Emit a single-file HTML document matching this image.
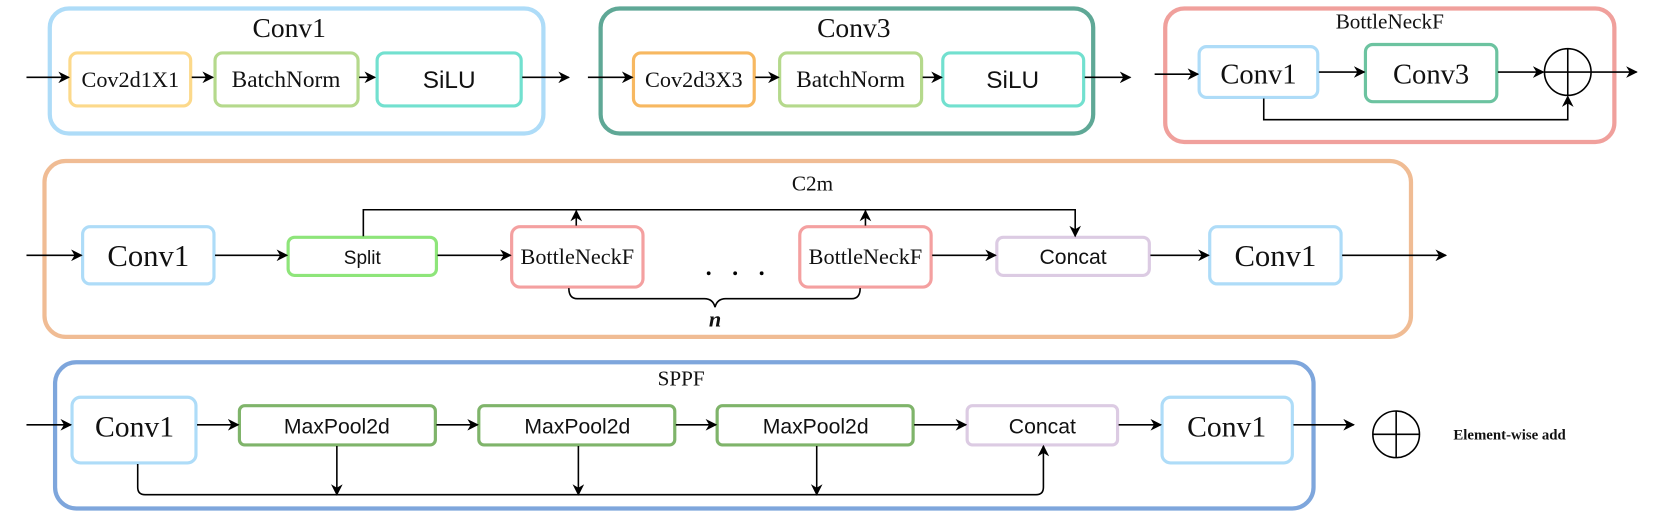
<!DOCTYPE html>
<html><head><meta charset="utf-8"><style>
html,body{margin:0;padding:0;background:#fff;}
svg{display:block;}
text{font-family:"Liberation Serif",serif;fill:#111;}
.s{font-family:"Liberation Sans",sans-serif;}
</style></head><body>
<svg width="1661" height="519" viewBox="0 0 1661 519" xmlns="http://www.w3.org/2000/svg">
<defs>
<marker id="a" viewBox="0 0 10 10" refX="9" refY="5" markerWidth="11" markerHeight="11" orient="auto-start-reverse" markerUnits="userSpaceOnUse"><path d="M0,0 L10,5 L0,10 L3,5 z" fill="#000"/></marker>
</defs>
<g transform="scale(1.0593)">
<g fill="none" stroke-width="4">
<rect x="47" y="8" width="466" height="118" rx="18" stroke="#aedcf8"/>
<rect x="567" y="8" width="465" height="118" rx="18" stroke="#5fa896"/>
<rect x="1100" y="8" width="424" height="126" rx="18" stroke="#f0a09c"/>
<rect x="42" y="152" width="1290" height="166" rx="20" stroke="#f0bc94"/>
<rect x="52" y="342" width="1188" height="138" rx="20" stroke="#7ea6dc"/>
</g>
<g fill="#fff" stroke-width="3">
<rect x="66" y="50" width="114" height="50" rx="7" stroke="#fcd98b"/>
<rect x="203" y="50" width="135" height="50" rx="7" stroke="#b5d98c"/>
<rect x="356" y="50" width="136" height="50" rx="7" stroke="#72e0cf"/>
<rect x="598" y="50" width="114" height="50" rx="7" stroke="#f7b861"/>
<rect x="736" y="50" width="134" height="50" rx="7" stroke="#b5d98c"/>
<rect x="890" y="50" width="133" height="50" rx="7" stroke="#72e0cf"/>
<rect x="1132" y="44" width="112" height="48" rx="7" stroke="#aedcf8"/>
<rect x="1289" y="42" width="124" height="54" rx="7" stroke="#6cc3a0"/>
<rect x="78" y="214" width="124" height="54" rx="7" stroke="#aedcf8"/>
<rect x="272" y="224" width="140" height="36" rx="6" stroke="#8ee57a"/>
<rect x="483" y="214" width="124" height="57" rx="8" stroke="#f4a0a0"/>
<rect x="755" y="214" width="124" height="57" rx="8" stroke="#f4a0a0"/>
<rect x="941" y="224" width="144" height="36" rx="6" stroke="#dccbe3"/>
<rect x="1142" y="214" width="124" height="54" rx="7" stroke="#aedcf8"/>
<rect x="68" y="375" width="117" height="62" rx="8" stroke="#aedcf8"/>
<rect x="226" y="383" width="185" height="37" rx="5" stroke="#7fb46a"/>
<rect x="452" y="383" width="185" height="37" rx="5" stroke="#7fb46a"/>
<rect x="677" y="383" width="185" height="37" rx="5" stroke="#7fb46a"/>
<rect x="913" y="383" width="142" height="37" rx="5" stroke="#dccbe3"/>
<rect x="1097" y="375" width="123" height="62" rx="8" stroke="#aedcf8"/>
</g>
<g stroke="#000" stroke-width="1.5" fill="none">
<line x1="25" y1="73" x2="65" y2="73" marker-end="url(#a)"/>
<line x1="181" y1="73" x2="201" y2="73" marker-end="url(#a)"/>
<line x1="339" y1="73" x2="354" y2="73" marker-end="url(#a)"/>
<line x1="493" y1="73" x2="537" y2="73" marker-end="url(#a)"/>
<line x1="555" y1="73" x2="597" y2="73" marker-end="url(#a)"/>
<line x1="713" y1="73" x2="735" y2="73" marker-end="url(#a)"/>
<line x1="871" y1="73" x2="889" y2="73" marker-end="url(#a)"/>
<line x1="1024" y1="73" x2="1067" y2="73" marker-end="url(#a)"/>
<line x1="1090" y1="70" x2="1131" y2="70" marker-end="url(#a)"/>
<line x1="1245" y1="68" x2="1288" y2="68" marker-end="url(#a)"/>
<line x1="1414" y1="68" x2="1457" y2="68" marker-end="url(#a)"/>
<line x1="1502" y1="68" x2="1545" y2="68" marker-end="url(#a)"/>
<polyline points="1193,93 1193,113 1480,113 1480,91" marker-end="url(#a)"/>
<circle cx="1480" cy="68" r="22"/>
<line x1="1458" y1="68" x2="1502" y2="68"/><line x1="1480" y1="46" x2="1480" y2="90"/>
<line x1="25" y1="241" x2="77" y2="241" marker-end="url(#a)"/>
<line x1="203" y1="241" x2="271" y2="241" marker-end="url(#a)"/>
<line x1="413" y1="241" x2="482" y2="241" marker-end="url(#a)"/>
<line x1="880" y1="241" x2="940" y2="241" marker-end="url(#a)"/>
<line x1="1086" y1="241" x2="1141" y2="241" marker-end="url(#a)"/>
<line x1="1267" y1="241" x2="1365" y2="241" marker-end="url(#a)"/>
<polyline points="343,223 343,198 1015,198 1015,223" marker-end="url(#a)"/>
<line x1="544" y1="213" x2="544" y2="199" marker-end="url(#a)"/>
<line x1="817" y1="213" x2="817" y2="199" marker-end="url(#a)"/>
<path d="M537,272 q0,10 8,10 L665,282 q8,0 10,8 q2,-8 10,-8 L804,282 q8,0 8,-10"/>
<line x1="25" y1="401" x2="67" y2="401" marker-end="url(#a)"/>
<line x1="186" y1="401" x2="225" y2="401" marker-end="url(#a)"/>
<line x1="412" y1="401" x2="451" y2="401" marker-end="url(#a)"/>
<line x1="638" y1="401" x2="676" y2="401" marker-end="url(#a)"/>
<line x1="863" y1="401" x2="912" y2="401" marker-end="url(#a)"/>
<line x1="1056" y1="401" x2="1096" y2="401" marker-end="url(#a)"/>
<line x1="1221" y1="401" x2="1278" y2="401" marker-end="url(#a)"/>
<path d="M130,438 L130,460 q0,7 7,7 L978,467 q7,0 7,-7 L985,421" marker-end="url(#a)"/>
<line x1="318" y1="421" x2="318" y2="467" marker-end="url(#a)"/>
<line x1="546" y1="421" x2="546" y2="467" marker-end="url(#a)"/>
<line x1="771" y1="421" x2="771" y2="467" marker-end="url(#a)"/>
<circle cx="1318" cy="410" r="22"/>
<line x1="1296" y1="410" x2="1340" y2="410"/><line x1="1318" y1="388" x2="1318" y2="432"/>
</g>
<g fill="#000"><circle cx="669" cy="258" r="1.8"/><circle cx="694" cy="258" r="1.8"/><circle cx="719" cy="258" r="1.8"/></g>
<g text-anchor="middle">
<text x="273" y="35" font-size="26">Conv1</text>
<text x="806" y="35" font-size="26">Conv3</text>
<text x="1312" y="27" font-size="20">BottleNeckF</text>
<text x="123" y="82" font-size="21">Cov2d1X1</text>
<text x="270" y="82" font-size="22">BatchNorm</text>
<text x="424" y="83" font-size="23" class="s">SiLU</text>
<text x="655" y="82" font-size="21">Cov2d3X3</text>
<text x="803" y="82" font-size="22">BatchNorm</text>
<text x="956" y="83" font-size="23" class="s">SiLU</text>
<text x="1188" y="79" font-size="27">Conv1</text>
<text x="1351" y="79" font-size="27">Conv3</text>
<text x="767" y="180" font-size="20">C2m</text>
<text x="140" y="251" font-size="29">Conv1</text>
<text x="342" y="249" font-size="18" class="s">Split</text>
<text x="545" y="249" font-size="21">BottleNeckF</text>
<text x="817" y="249" font-size="21">BottleNeckF</text>
<text x="1013" y="249" font-size="20" class="s">Concat</text>
<text x="1204" y="251" font-size="29">Conv1</text>
<text x="675" y="308" font-size="21" font-style="italic" font-weight="bold">n</text>
<text x="643" y="364" font-size="20">SPPF</text>
<text x="127" y="412" font-size="28">Conv1</text>
<text x="318" y="409" font-size="20" class="s">MaxPool2d</text>
<text x="545" y="409" font-size="20" class="s">MaxPool2d</text>
<text x="770" y="409" font-size="20" class="s">MaxPool2d</text>
<text x="984" y="409" font-size="20" class="s">Concat</text>
<text x="1158" y="412" font-size="28">Conv1</text>
<text x="1372" y="415" font-size="14" font-weight="bold" text-anchor="start">Element-wise add</text>
</g>
</g>
</svg>
</body></html>
